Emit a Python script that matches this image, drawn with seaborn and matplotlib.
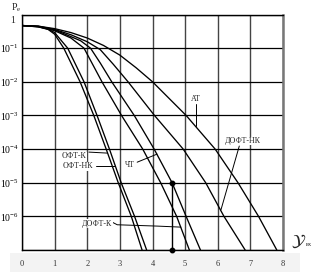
import numpy as np
import pandas as pd
import matplotlib
matplotlib.use("Agg")
import matplotlib.pyplot as plt
import seaborn as sns
from matplotlib.patches import Rectangle
from matplotlib.ticker import NullLocator

sns.set_theme(style="white")
plt.rcParams["font.family"] = ["Liberation Serif", "DejaVu Serif"]
plt.rcParams["mathtext.fontset"] = "custom"
plt.rcParams["mathtext.rm"] = "Liberation Serif"
plt.rcParams["mathtext.it"] = "Liberation Serif:italic"

# ---- data ----
ofk_x = [0, 0.5, 0.8, 1.0, 1.28, 1.78, 2.2, 2.58, 2.95, 3.35, 3.68]
ofk_pe = [0.47, 0.43, 0.36, 0.26, 1e-1, 1e-2, 1e-3, 1e-4, 1e-5, 1e-6, 1e-7]

ofnk_x = [0, 0.5, 0.8, 1.0, 1.4, 1.9, 2.3, 2.68, 3.04, 3.45, 3.82]
ofnk_pe = [0.47, 0.43, 0.37, 0.29, 1e-1, 1e-2, 1e-3, 1e-4, 1e-5, 1e-6, 1e-7]

dofk_x = [0, 0.5, 1.0, 1.5, 1.9, 2.45, 3.05, 3.7, 4.25, 4.74, 5.13]
dofk_pe = [0.47, 0.44, 0.33, 0.2, 1e-1, 1e-2, 1e-3, 1e-4, 1e-5, 1e-6, 1e-7]

cht_x = [0, 0.5, 1.0, 1.5, 1.8, 2.1, 2.4, 2.75, 3.44, 4.05, 4.6, 5.03, 5.47]
cht_pe = [0.47, 0.44, 0.35, 0.22, 0.165, 1e-1, 0.036, 1e-2, 1e-3, 1e-4, 1e-5, 1e-6, 1e-7]

dofnk_x = [0, 0.5, 1.0, 1.5, 2.0, 2.4, 2.8, 3.25, 4.06, 4.94, 5.63, 6.19, 6.84]
dofnk_pe = [0.47, 0.45, 0.36, 0.25, 0.155, 0.09, 0.033, 1e-2, 1e-3, 1e-4, 1e-5, 1e-6, 1e-7]

at_x = [0, 0.5, 1.0, 1.5, 2.0, 2.5, 3.0, 3.5, 4.0, 5.03, 5.92, 6.62, 7.25, 7.81]
at_pe = [0.47, 0.45, 0.38, 0.29, 0.2, 0.12, 0.062, 0.026, 1e-2, 1e-3, 1e-4, 1e-5, 1e-6, 1e-7]

curve_names = ["ОФТ-К", "ОФТ-НК", "ДОФТ-К", "ЧТ", "ДОФТ-НК", "АТ"]
curve_x = [ofk_x, ofnk_x, dofk_x, cht_x, dofnk_x, at_x]
curve_pe = [ofk_pe, ofnk_pe, dofk_pe, cht_pe, dofnk_pe, at_pe]

marker_x = [4.6, 4.6]
marker_pe = [1e-5, 1e-7]

x_ticks = [0, 1, 2, 3, 4, 5, 6, 7, 8]
y_ticks = [1e-7, 1e-6, 1e-5, 1e-4, 1e-3, 1e-2, 1e-1, 1]
y_tick_labels = ["", r"$\mathregular{10^{-6}}$", r"$\mathregular{10^{-5}}$",
                 r"$\mathregular{10^{-4}}$", r"$\mathregular{10^{-3}}$",
                 r"$\mathregular{10^{-2}}$", r"$\mathregular{10^{-1}}$", ""]

rows = []
for name, xs, ps in zip(curve_names, curve_x, curve_pe):
    for xv, pv in zip(xs, ps):
        rows.append({"curve": name, "snr": xv, "pe": pv})
df = pd.DataFrame(rows)

# ---- figure ----
fig = plt.figure(figsize=(3.2, 2.72), dpi=100)
fig.patch.set_facecolor("white")
ax = fig.add_axes([22 / 320, 1 - 250 / 272, 261 / 320, 235.5 / 272])

fig.patches.append(Rectangle((10 / 320, 0), 290 / 320, 19 / 272,
                             transform=fig.transFigure, facecolor="#f3f3f3",
                             edgecolor="none", zorder=-5))

ax.set_yscale("log")
sns.lineplot(data=df, x="snr", y="pe", hue="curve", units="curve",
             estimator=None, sort=False, palette=["black"] * 6,
             legend=False, lw=0.95, ax=ax)

ax.plot(marker_x, marker_pe, color="black", lw=1.0, marker="o", ms=3.2,
        clip_on=False, zorder=5)

ax.set_xlim(0, 8)
ax.set_ylim(1e-7, 1)
ax.set_xticks(x_ticks)
ax.set_xticklabels([str(t) for t in x_ticks])
ax.set_yticks(y_ticks)
ax.set_yticklabels(y_tick_labels)
ax.yaxis.set_minor_locator(NullLocator())
ax.set_xlabel("")
ax.set_ylabel("")
ax.tick_params(axis="x", length=0, pad=7, labelsize=6, colors="#333333")
ax.tick_params(axis="y", length=0, pad=2.5, labelsize=7, colors="black")

ax.xaxis.grid(True, color="#444444", lw=1.0)
ax.yaxis.grid(True, color="black", lw=0.9)
ax.set_axisbelow(True)
for s in ["left", "top", "bottom"]:
    ax.spines[s].set_color("black")
    ax.spines[s].set_linewidth(1.0)
ax.spines["right"].set_color("#777777")
ax.spines["right"].set_linewidth(1.8)

# "1" label for the top decade
ax.annotate("1", xy=(0, 1), xycoords="data", xytext=(-6.5, -4),
            textcoords="offset points", ha="center", va="center", fontsize=7)

# axis titles
fig.text(11 / 320, 1 - 2 / 272, r"$\mathregular{P_e}$", fontsize=7, va="top", ha="left")
fig.text(291 / 320, 1 - 241 / 272, r"$\mathcal{Y}$", fontsize=12.5, va="center",
         ha="left", math_fontfamily="stix")
fig.text(306 / 320, 1 - 244 / 272, "вх", fontsize=4.5, va="center", ha="left")

# curve labels and leaders
fs = 5.8
def lbl(text, x, lg):
    ax.text(x, 10 ** lg, text, fontsize=fs, ha="center", va="center",
            bbox=dict(facecolor="white", edgecolor="none", pad=0.3))

def leader(xs, lgs):
    ax.plot(xs, [10 ** v for v in lgs], color="black", lw=0.7)

lbl("АТ", 5.34, -2.51)
leader([5.34, 5.34], [-2.66, -3.3])
lbl("ДОФТ-НК", 6.78, -3.76)
leader([6.66, 6.1], [-3.91, -5.8])
lbl("ЧТ", 3.31, -4.46)
leader([3.53, 4.14], [-4.39, -4.15])
lbl("ОФТ-К", 1.6, -4.21)
leader([2.05, 2.62], [-4.09, -4.12])
lbl("ОФТ-НК", 1.72, -4.51)
leader([2.27, 2.86], [-4.51, -4.51])
lbl("ДОФТ-К", 2.3, -6.22)
leader([2.78, 2.92, 4.16, 4.87], [-6.18, -6.25, -6.29, -6.32])

fig.savefig("out.png", dpi=100)
